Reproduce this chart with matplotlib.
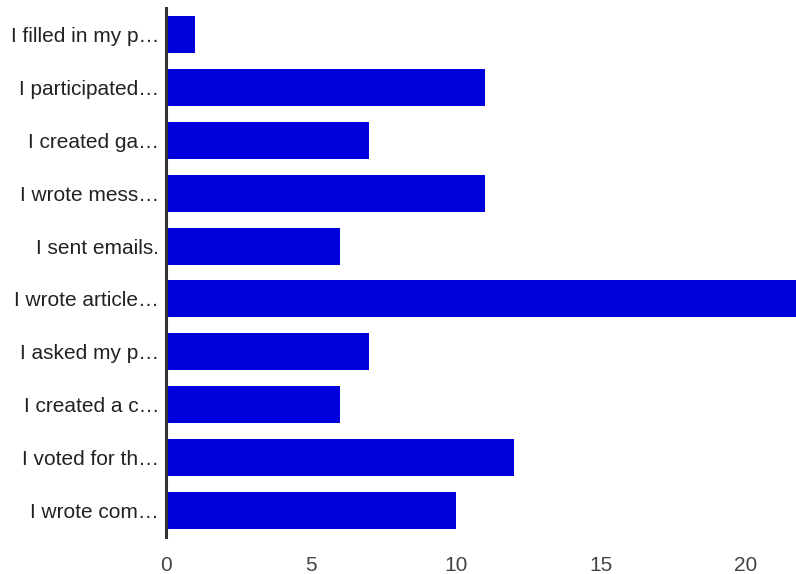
import matplotlib
matplotlib.use("Agg")
import matplotlib.pyplot as plt

categories = ["I filled in my p…", "I participated…", "I created ga…", "I wrote mess…",
              "I sent emails.", "I wrote article…", "I asked my p…", "I created a c…",
              "I voted for th…", "I wrote com…"]
values = [1, 11, 7, 11, 6, 22, 7, 6, 12, 10]
xticks = [0, 5, 10, 15, 20]

plt.rcParams['font.family'] = ['Liberation Sans', 'DejaVu Sans']
fig = plt.figure(figsize=(7.96, 5.74), dpi=100)
ax = fig.add_axes([166/796, 1-537/574, 1-166/796, (537-8)/574])
ypos = list(range(len(categories)))
ax.barh(ypos, values, height=0.7, color='#0000dd', zorder=2)
ax.set_ylim(len(categories)-0.5, -0.5)
ax.set_xlim(0, 21.72)
ax.set_yticks(ypos)
ax.set_yticklabels(categories, fontsize=15, color='#222222')
ax.set_xticks(xticks)
ax.set_xticklabels([str(t) for t in xticks], fontsize=15, color='#444444')
for s in ['top', 'right', 'bottom']:
    ax.spines[s].set_visible(False)
ax.spines['left'].set_color('#333333')
ax.spines['left'].set_linewidth(2.2)
ax.spines['left'].set_zorder(3)
ax.tick_params(axis='both', length=0)
ax.tick_params(axis='y', pad=5)
ax.tick_params(axis='x', pad=14)
fig.savefig('out.png', dpi=100)
